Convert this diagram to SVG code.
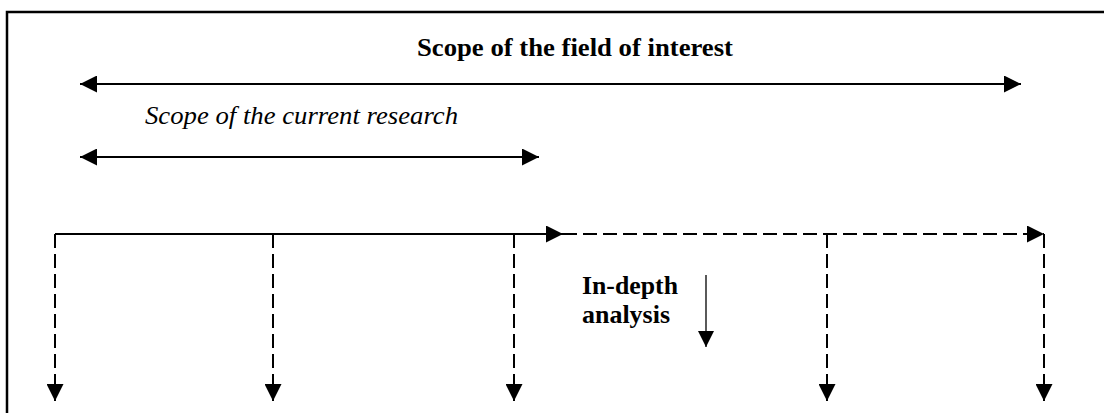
<svg xmlns="http://www.w3.org/2000/svg" width="1104" height="413" viewBox="0 0 1104 413">
  <style>
    .bg { fill: #ffffff; }
    .frame { fill: none; stroke: #000; stroke-width: 2.5; }
    .solid { fill: none; stroke: #000; stroke-width: 2; }
    .thin { fill: none; stroke: #000; stroke-width: 1.3; }
    .dash { fill: none; stroke: #000; stroke-width: 2; stroke-dasharray: 14 6; }
    text { font-family: 'Liberation Serif', serif; font-size: 25px; fill: #000; }
    .bold { font-weight: bold; }
    .ital { font-style: italic; }
    .big { font-size: 26px; }
  </style>
  <defs>
    <marker id="head" viewBox="0 0 16 16" refX="16" refY="8" markerWidth="17" markerHeight="17" markerUnits="userSpaceOnUse" orient="auto-start-reverse">
      <path d="M0,0 L16,8 L0,16 Z" fill="#000"/>
    </marker>
    <marker id="headSmall" viewBox="0 0 16 16" refX="16" refY="8" markerWidth="16" markerHeight="16" markerUnits="userSpaceOnUse" orient="auto">
      <path d="M0,0 L16,8 L0,16 Z" fill="#000"/>
    </marker>
  </defs>

  <rect class="bg" x="0" y="0" width="1104" height="413"/>

  <!-- outer frame: only the top and left edges fall inside the canvas -->
  <path id="frame" class="frame" d="M7,425 L7,12 L1110,12"/>

  <g id="label-field">
    <text class="bold" x="417" y="56" textLength="316" lengthAdjust="spacingAndGlyphs">Scope of the field of interest</text>
  </g>
  <g id="label-research">
    <text class="ital" x="145" y="124" textLength="313" lengthAdjust="spacingAndGlyphs">Scope of the current research</text>
  </g>
  <g id="label-depth">
    <text class="bold big" x="582" y="294" textLength="96" lengthAdjust="spacingAndGlyphs">In-depth</text>
    <text class="bold big" x="582" y="323" textLength="88" lengthAdjust="spacingAndGlyphs">analysis</text>
  </g>

  <g id="connectors">
    <!-- scope ranges -->
    <line class="solid" x1="80" y1="84" x2="1021" y2="84" marker-start="url(#head)" marker-end="url(#head)"/>
    <line class="solid" x1="80" y1="157" x2="539" y2="157" marker-start="url(#head)" marker-end="url(#head)"/>

    <!-- timeline: covered part solid, remaining part dashed -->
    <line class="solid" x1="55" y1="234" x2="563" y2="234" marker-end="url(#head)"/>
    <line class="dash" x1="563" y1="234" x2="1044" y2="234" marker-end="url(#head)"/>

    <!-- drop-downs from the timeline -->
    <line class="dash" x1="55" y1="234" x2="55" y2="401" marker-end="url(#head)"/>
    <line class="dash" x1="273" y1="234" x2="273" y2="401" marker-end="url(#head)"/>
    <line class="dash" x1="514" y1="234" x2="514" y2="401" marker-end="url(#head)"/>
    <line class="dash" x1="827" y1="234" x2="827" y2="401" marker-end="url(#head)"/>
    <line class="dash" x1="1044" y1="234" x2="1044" y2="401" marker-end="url(#head)"/>

    <!-- in-depth analysis direction -->
    <line class="thin" x1="706" y1="275" x2="706" y2="347" marker-end="url(#headSmall)"/>
  </g>
</svg>
